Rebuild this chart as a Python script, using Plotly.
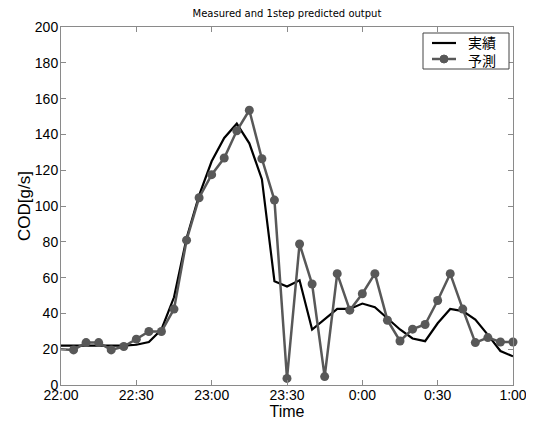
import plotly.graph_objects as go

times = ["22:00", "22:05", "22:10", "22:15", "22:20", "22:25", "22:30", "22:35", "22:40", "22:45",
         "22:50", "22:55", "23:00", "23:05", "23:10", "23:15", "23:20", "23:25", "23:30", "23:35",
         "23:40", "23:45", "23:50", "23:55", "0:00", "0:05", "0:10", "0:15", "0:20", "0:25",
         "0:30", "0:35", "0:40", "0:45", "0:50", "0:55", "1:00"]

measured = [22, 22, 22, 22, 22, 22, 22.5, 24, 31, 49,
            82, 106, 125, 138, 146, 135, 115, 58, 55, 58.5,
            31, 36.5, 42.5, 42.5, 45.5, 43.5, 37, 31, 26, 24.5,
            34.5, 42.5, 41.3, 36.5, 28, 19, 16]

predicted = [20, 19.6, 23.7, 23.7, 19.6, 21.5, 25.6, 29.9, 29.9, 42.4,
             80.9, 104.6, 117.5, 126.8, 142, 153.5, 126.4, 103.3, 3.7, 78.8,
             56.4, 4.7, 62.2, 41.8, 51, 62.2, 36.2, 24.6, 31.2, 33.8,
             47.2, 62.2, 42.4, 23.7, 26.5, 24, 24]

tick_vals = ["22:00", "22:30", "23:00", "23:30", "0:00", "0:30", "1:00"]
y_ticks = [0, 20, 40, 60, 80, 100, 120, 140, 160, 180, 200]
legend_names = ["実績", "予測"]
y_title = "COD[g/s]"


def to_dt(t):
    h, m = map(int, t.split(":"))
    day = "2020-01-01" if h >= 12 else "2020-01-02"
    return f"{day} {h:02d}:{m:02d}:00"


# the page body has an 8px margin, so the figure is drawn 8px in from the window corner
OFF = 8
W, H = 534 - OFF, 423 - OFF
L, R, T, B = 61 - OFF, 21, 27 - OFF, 38
x = [to_dt(t) for t in times]
gray = "#585858"

fig = go.Figure()
fig.add_trace(go.Scatter(x=x, y=measured, mode="lines", name=legend_names[0],
                         line=dict(color="black", width=2.2)))
# gray line from the left edge (no marker on the first sample)
fig.add_trace(go.Scatter(x=x[:2], y=predicted[:2], mode="lines", showlegend=False,
                         line=dict(color=gray, width=2.5), hoverinfo="skip"))
fig.add_trace(go.Scatter(x=x[1:], y=predicted[1:], mode="lines+markers", name=legend_names[1],
                         line=dict(color=gray, width=2.5),
                         marker=dict(color=gray, size=9), cliponaxis=False))

axis_common = dict(showgrid=False, zeroline=False, showline=True, linecolor="#8a8a8a",
                   linewidth=1, mirror="ticks", ticks="inside", ticklen=5, tickcolor="#8a8a8a",
                   automargin=False,
                   tickfont=dict(family="Liberation Sans, Arial", size=14, color="black"))

fig.update_xaxes(range=[to_dt("22:00"), to_dt("1:00")], tickvals=[to_dt(t) for t in tick_vals],
                 ticktext=tick_vals, ticklabelstandoff=-3,
                 title=dict(text="Time", font=dict(family="Liberation Sans, Arial", size=16, color="black"),
                            standoff=0),
                 **axis_common)
fig.update_yaxes(range=[0, 200], tickvals=y_ticks, ticklabelstandoff=-1,
                 **axis_common)


# custom legend box, positioned in window pixels
def px(xp):
    return (xp - OFF - L) / (W - L - R)


def py(yp):
    return (H - B - (yp - OFF)) / (H - T - B)


shapes = [
    dict(type="rect", xref="paper", yref="paper", x0=px(423), x1=px(509), y0=py(69), y1=py(33),
         line=dict(color="#444444", width=1), fillcolor="white", layer="above"),
    dict(type="line", xref="paper", yref="paper", x0=px(432), x1=px(456), y0=py(43), y1=py(43),
         line=dict(color="black", width=2.2), layer="above"),
    dict(type="line", xref="paper", yref="paper", x0=px(432), x1=px(456), y0=py(59), y1=py(59),
         line=dict(color=gray, width=2.5), layer="above"),
    dict(type="circle", xref="paper", yref="paper", x0=px(440), x1=px(448), y0=py(63), y1=py(55),
         line=dict(color=gray, width=1), fillcolor=gray, layer="above"),
]
annotations = [
    dict(text=legend_names[0] + "<br>" + legend_names[1], xref="paper", yref="paper",
         x=px(466), y=py(51), xanchor="left", yanchor="middle", align="left", showarrow=False,
         font=dict(family="Noto Sans CJK JP", size=14, color="black")),
    dict(text=y_title, xref="paper", yref="paper", x=px(24), y=py(206), xanchor="center",
         yanchor="middle", textangle=-90, showarrow=False,
         font=dict(family="Liberation Sans, Arial", size=17, color="black")),
]

fig.update_layout(
    width=W, height=H,
    margin=dict(l=L, r=R, t=T, b=B),
    paper_bgcolor="white", plot_bgcolor="white",
    title=dict(text="Measured and 1step predicted output", x=(287 - OFF) / W, xanchor="center",
               y=1 - (13 - OFF) / H, yanchor="middle", automargin=False,
               font=dict(family="DejaVu Sans", size=10, color="black")),
    showlegend=False,
    shapes=shapes,
    annotations=annotations,
)

fig.write_html("out.html")
